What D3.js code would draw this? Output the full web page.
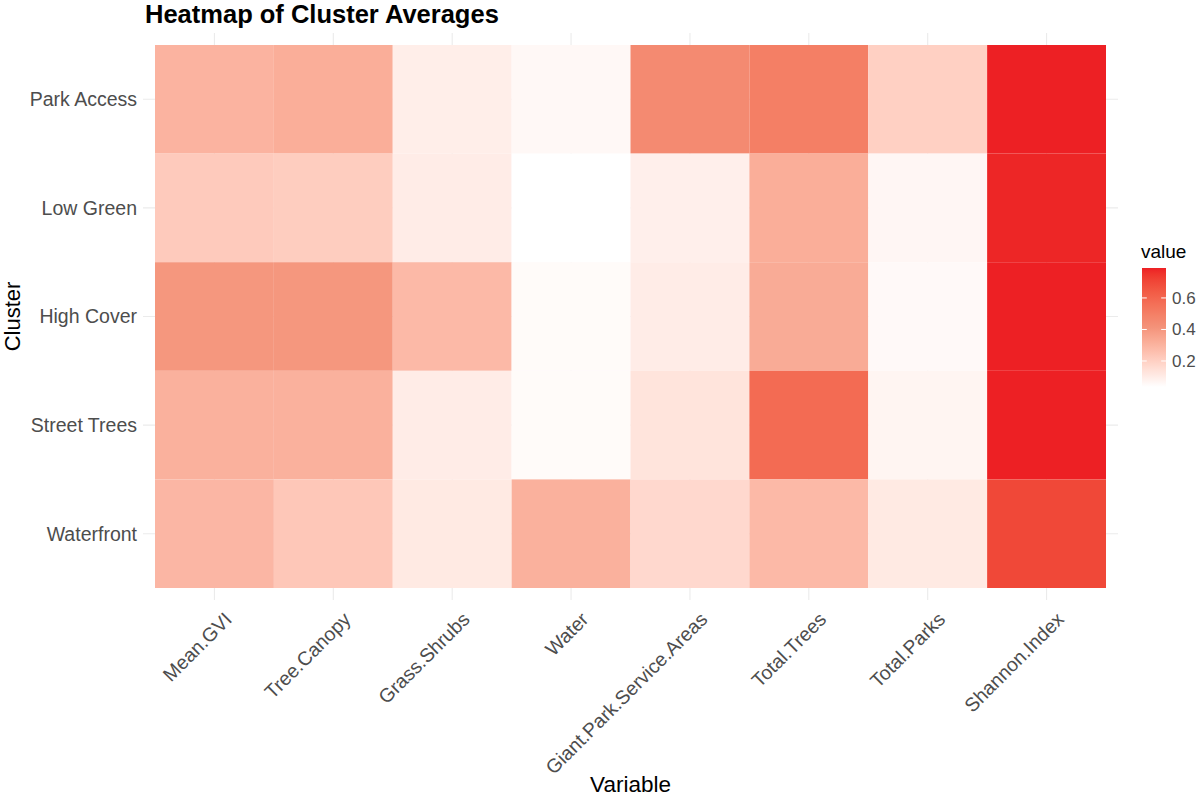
<!DOCTYPE html>
<html>
<head>
<meta charset="utf-8">
<script src="https://cdn.jsdelivr.net/npm/d3@7"></script>
<style>
  body { margin: 0; background: #fff; }
  svg { font-family: "Liberation Sans", Arial, sans-serif; }
</style>
</head>
<body>
<div id="chart"></div>
<script>
// Data
const variables = ['Mean.GVI', 'Tree.Canopy', 'Grass.Shrubs', 'Water',
  'Giant.Park.Service.Areas', 'Total.Trees', 'Total.Parks', 'Shannon.Index'];
const clusters = ['Park Access', 'Low Green', 'High Cover', 'Street Trees', 'Waterfront'];

const parkAccess  = [0.30, 0.32, 0.095, 0.058, 0.45, 0.50, 0.20, 0.79];
const lowGreen    = [0.22, 0.21, 0.10, 0.035, 0.09, 0.32, 0.065, 0.78];
const highCover   = [0.40, 0.40, 0.28, 0.05, 0.10, 0.33, 0.055, 0.79];
const streetTrees = [0.31, 0.31, 0.10, 0.05, 0.13, 0.58, 0.07, 0.79];
const waterfront  = [0.29, 0.23, 0.11, 0.31, 0.17, 0.28, 0.11, 0.70];

const legendTicks = [0.2, 0.4, 0.6];

const rows = [parkAccess, lowGreen, highCover, streetTrees, waterfront];
const cells = [];
rows.forEach((vals, i) => {
  vals.forEach((v, j) => cells.push({ cluster: clusters[i], variable: variables[j], value: v }));
});

const width = 1200, height = 798;
const tile = { left: 155, right: 1106, top: 45, bottom: 588 };
const panel = { left: 143, right: 1118, top: 33, bottom: 600 };

const svg = d3.select('#chart').append('svg')
  .attr('width', width)
  .attr('height', height);

const x = d3.scaleBand().domain(variables).range([tile.left, tile.right]).padding(0);
const y = d3.scaleBand().domain(clusters).range([tile.top, tile.bottom]).padding(0);

// white -> red gradient (the mid stop gives the salmon tones of the print)
const extent = d3.extent(cells, d => d.value);
const color = d3.scaleLinear()
  .domain([extent[0], (extent[0] + extent[1]) / 2, extent[1]])
  .range(['#ffffff', '#f4937a', '#ed2024'])
  .interpolate(d3.interpolateLab);

// grid lines (only visible in the expansion area)
svg.append('g').selectAll('line')
  .data(variables).join('line')
  .attr('x1', d => x(d) + x.bandwidth() / 2)
  .attr('x2', d => x(d) + x.bandwidth() / 2)
  .attr('y1', panel.top).attr('y2', panel.bottom)
  .attr('stroke', '#ebebeb').attr('stroke-width', 1.1);

svg.append('g').selectAll('line')
  .data(clusters).join('line')
  .attr('y1', d => y(d) + y.bandwidth() / 2)
  .attr('y2', d => y(d) + y.bandwidth() / 2)
  .attr('x1', panel.left).attr('x2', panel.right)
  .attr('stroke', '#ebebeb').attr('stroke-width', 1.1);

// tiles
svg.append('g').selectAll('rect')
  .data(cells).join('rect')
  .attr('x', d => x(d.variable))
  .attr('y', d => y(d.cluster))
  .attr('width', x.bandwidth())
  .attr('height', y.bandwidth())
  .attr('fill', d => color(d.value));

// y axis labels
svg.append('g').selectAll('text')
  .data(clusters).join('text')
  .attr('x', 137)
  .attr('y', d => y(d) + y.bandwidth() / 2)
  .attr('dy', '0.35em')
  .attr('text-anchor', 'end')
  .attr('font-size', 19.5)
  .attr('fill', '#4d4d4d')
  .text(d => d);

// x axis labels, rotated 45deg
svg.append('g').selectAll('text')
  .data(variables).join('text')
  .attr('transform', d => `translate(${x(d) + x.bandwidth() / 2 + 9},${611}) rotate(-45)`)
  .attr('text-anchor', 'end')
  .attr('dy', '0.7em')
  .attr('font-size', 19.5)
  .attr('fill', '#4d4d4d')
  .text(d => d);

// axis titles
svg.append('text')
  .attr('x', (tile.left + tile.right) / 2)
  .attr('y', 792)
  .attr('text-anchor', 'middle')
  .attr('font-size', 22.5)
  .attr('fill', '#000')
  .text('Variable');

svg.append('text')
  .attr('transform', `translate(20,${(tile.top + tile.bottom) / 2}) rotate(-90)`)
  .attr('text-anchor', 'middle')
  .attr('font-size', 22)
  .attr('fill', '#000')
  .text('Cluster');

// title
svg.append('text')
  .attr('x', 145)
  .attr('y', 23)
  .attr('font-size', 25.5)
  .attr('font-weight', 'bold')
  .attr('fill', '#000')
  .text('Heatmap of Cluster Averages');

// legend
const lg = { x: 1142, w: 24, top: 268, bottom: 387 };
const ly = d3.scaleLinear().domain(extent).range([lg.bottom, lg.top]);

const grad = svg.append('defs').append('linearGradient')
  .attr('id', 'lgrad')
  .attr('x1', 0).attr('x2', 0).attr('y1', 1).attr('y2', 0);
d3.range(0, 1.0001, 0.05).forEach(t => {
  grad.append('stop')
    .attr('offset', t)
    .attr('stop-color', color(extent[0] + t * (extent[1] - extent[0])));
});

svg.append('rect')
  .attr('x', lg.x).attr('y', lg.top)
  .attr('width', lg.w).attr('height', lg.bottom - lg.top)
  .attr('fill', 'url(#lgrad)');

const lt = svg.append('g');
legendTicks.forEach(v => {
  lt.append('line')
    .attr('x1', lg.x).attr('x2', lg.x + lg.w / 5)
    .attr('y1', ly(v)).attr('y2', ly(v))
    .attr('stroke', '#fff').attr('stroke-width', 1);
  lt.append('line')
    .attr('x1', lg.x + lg.w - lg.w / 5).attr('x2', lg.x + lg.w)
    .attr('y1', ly(v)).attr('y2', ly(v))
    .attr('stroke', '#fff').attr('stroke-width', 1);
  lt.append('text')
    .attr('x', lg.x + lg.w + 6)
    .attr('y', ly(v))
    .attr('dy', '0.35em')
    .attr('font-size', 17)
    .attr('fill', '#4d4d4d')
    .text(d3.format('.1f')(v));
});

svg.append('text')
  .attr('x', 1141)
  .attr('y', 258)
  .attr('font-size', 19)
  .attr('fill', '#000')
  .text('value');
</script>
</body>
</html>
